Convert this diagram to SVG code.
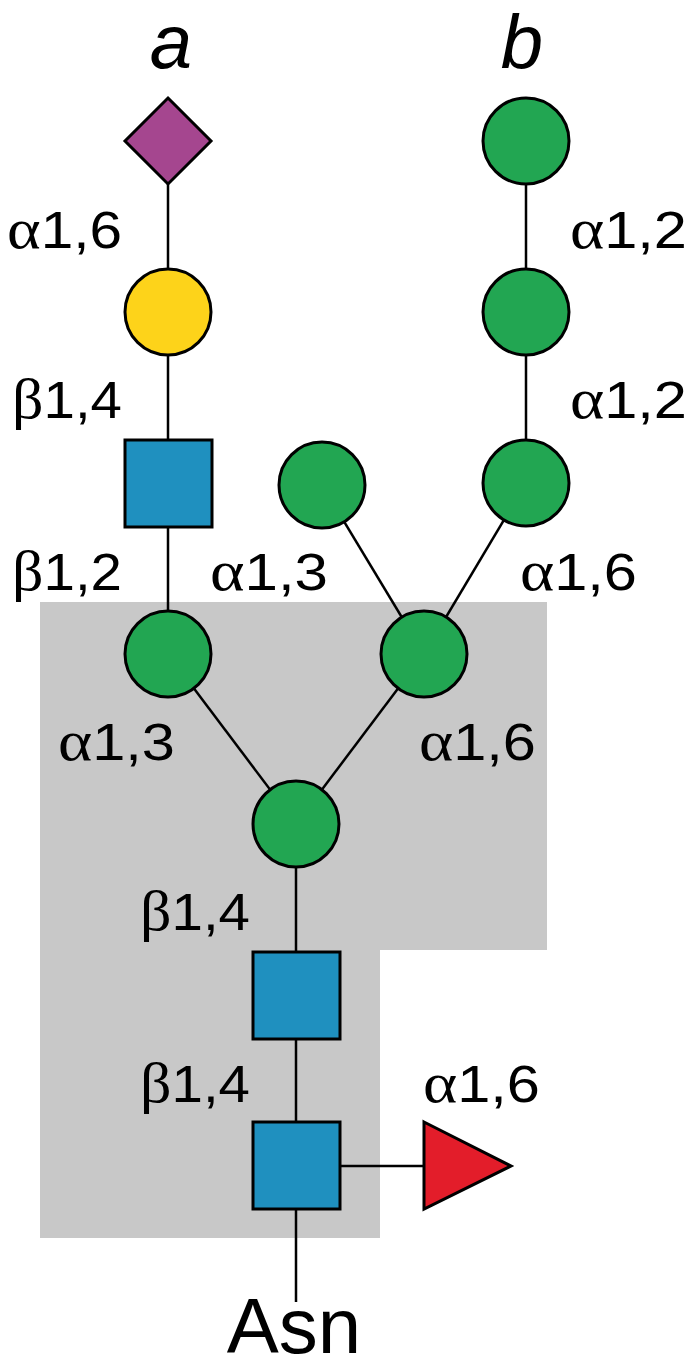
<svg xmlns="http://www.w3.org/2000/svg" width="694" height="1370" viewBox="0 0 694 1370">
<style>
.sh{stroke:#000;stroke-width:3}
.ln{stroke:#000;stroke-width:2.5;fill:none}
.man{fill:#22A652}
.lbl{font-family:"Liberation Sans",Arial,sans-serif;font-size:51px;fill:#000}
.gr{font-family:"Liberation Serif","Times New Roman",serif;font-size:56px}
.hd{font-family:"Liberation Sans",Arial,sans-serif;font-size:76px;font-style:italic;fill:#000;text-anchor:middle}
</style>
<rect width="694" height="1370" fill="#fff"/>
<polygon id="core-region" points="40,602 547,602 547,950 380,950 380,1238 40,1238" fill="#C8C8C8"/>
<g id="connectors">
<line class="ln" x1="168" y1="141" x2="168" y2="654"/>
<line class="ln" x1="526" y1="141" x2="526" y2="483"/>
<line class="ln" x1="526" y1="483" x2="424" y2="654"/>
<line class="ln" x1="322" y1="485" x2="424" y2="654"/>
<line class="ln" x1="168" y1="654" x2="296" y2="824"/>
<line class="ln" x1="424" y1="654" x2="296" y2="824"/>
<line class="ln" x1="296" y1="824" x2="296" y2="1302"/>
<line class="ln" x1="296" y1="1166" x2="424" y2="1166"/>
</g>
<g id="neuac"><polygon class="sh" fill="#A5468F" points="168,98 211,141 168,184 125,141"/></g>
<g id="gal"><circle class="sh" fill="#FDD31A" cx="168" cy="312" r="43"/></g>
<g id="glcnac-a"><rect class="sh" fill="#1F90BF" x="125" y="440" width="87" height="87"/></g>
<g id="man-a"><circle class="sh man" cx="168" cy="654" r="43"/></g>
<g id="man-b1"><circle class="sh man" cx="526" cy="141" r="43"/></g>
<g id="man-b2"><circle class="sh man" cx="526" cy="312" r="43"/></g>
<g id="man-b3"><circle class="sh man" cx="526" cy="483" r="43"/></g>
<g id="man-mid"><circle class="sh man" cx="322" cy="485" r="43"/></g>
<g id="man-r"><circle class="sh man" cx="424" cy="654" r="43"/></g>
<g id="man-core"><circle class="sh man" cx="296" cy="824" r="43"/></g>
<g id="glcnac-2"><rect class="sh" fill="#1F90BF" x="253" y="952" width="87" height="87"/></g>
<g id="glcnac-1"><rect class="sh" fill="#1F90BF" x="253" y="1122" width="87" height="87"/></g>
<g id="fuc"><polygon class="sh" fill="#E31D2A" points="424,1122 511,1166 424,1209"/></g>
<g id="labels">
<text class="hd" x="171" y="68">a</text>
<text class="hd" x="522" y="68">b</text>
<text class="lbl" x="7" y="248" textLength="115" lengthAdjust="spacingAndGlyphs"><tspan class="gr">α</tspan>1,6</text>
<text class="lbl" x="570" y="248" textLength="117" lengthAdjust="spacingAndGlyphs"><tspan class="gr">α</tspan>1,2</text>
<text class="lbl" x="12" y="418" textLength="110" lengthAdjust="spacingAndGlyphs"><tspan class="gr">β</tspan>1,4</text>
<text class="lbl" x="570" y="418" textLength="117" lengthAdjust="spacingAndGlyphs"><tspan class="gr">α</tspan>1,2</text>
<text class="lbl" x="12" y="590" textLength="110" lengthAdjust="spacingAndGlyphs"><tspan class="gr">β</tspan>1,2</text>
<text class="lbl" x="210" y="590" textLength="118" lengthAdjust="spacingAndGlyphs"><tspan class="gr">α</tspan>1,3</text>
<text class="lbl" x="520" y="590" textLength="117" lengthAdjust="spacingAndGlyphs"><tspan class="gr">α</tspan>1,6</text>
<text class="lbl" x="58" y="760" textLength="117" lengthAdjust="spacingAndGlyphs"><tspan class="gr">α</tspan>1,3</text>
<text class="lbl" x="419" y="760" textLength="117" lengthAdjust="spacingAndGlyphs"><tspan class="gr">α</tspan>1,6</text>
<text class="lbl" x="140" y="930" textLength="110" lengthAdjust="spacingAndGlyphs"><tspan class="gr">β</tspan>1,4</text>
<text class="lbl" x="140" y="1102" textLength="110" lengthAdjust="spacingAndGlyphs"><tspan class="gr">β</tspan>1,4</text>
<text class="lbl" x="423" y="1102" textLength="117" lengthAdjust="spacingAndGlyphs"><tspan class="gr">α</tspan>1,6</text>
<text class="lbl" x="294" y="1353" style="font-size:78px;text-anchor:middle">Asn</text>
</g>
</svg>
